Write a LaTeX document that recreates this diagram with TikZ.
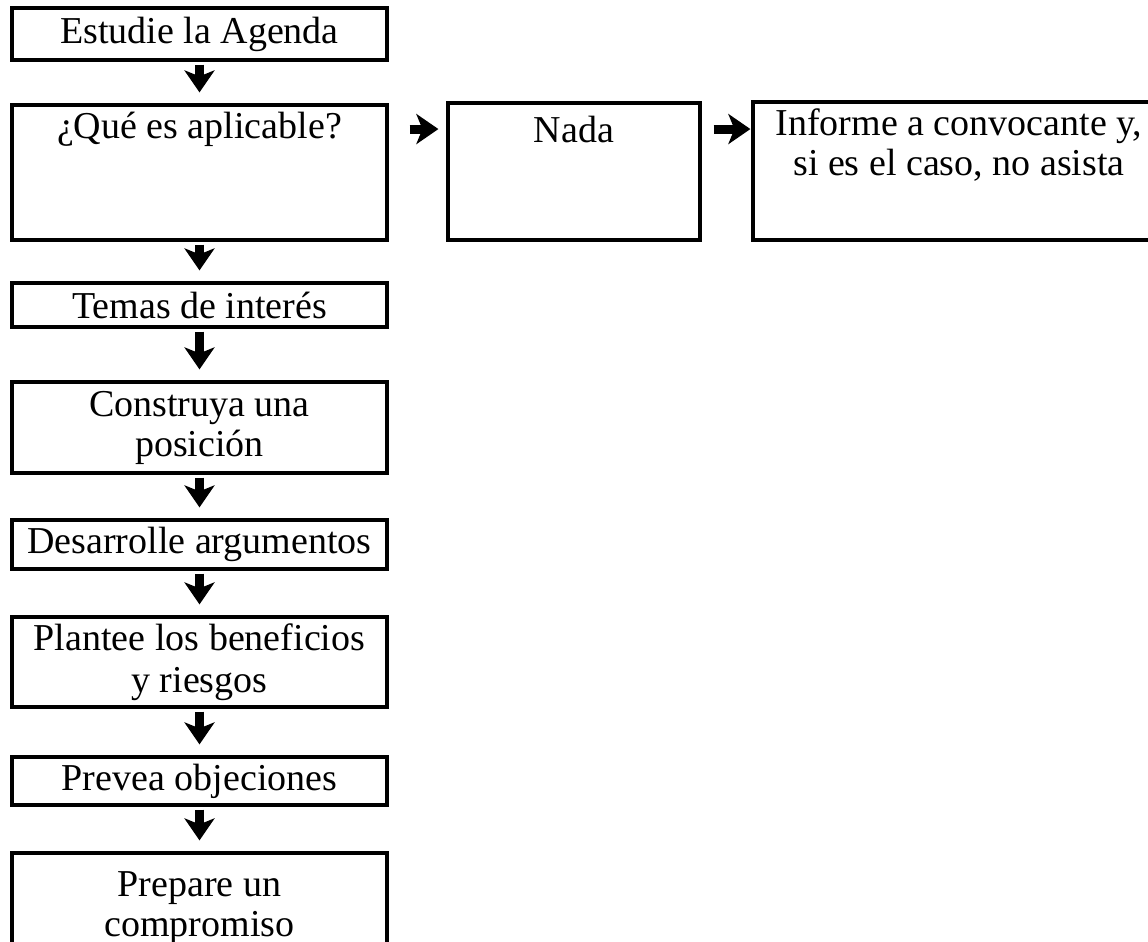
\documentclass[tikz,border=0pt]{standalone}
\usepackage{fontspec}
\setmainfont{Liberation Serif}
\usetikzlibrary{positioning}
\usetikzlibrary{arrows.meta}

\tikzset{
 caja/.style={draw,line width=1.6pt,minimum width=187.5pt,inner sep=0pt,align=center},
 texto/.style={inner sep=0pt,align=center},
 flecha/.style={line width=4.5pt,-{Stealth[length=11pt,width=15pt,inset=3pt]},shorten <=1.5pt,shorten >=5.5pt}
}

\begin{document}
\begin{tikzpicture}[x=0.5pt,y=-0.5pt,font=\fontsize{19}{20}\selectfont]
 \clip (0,0) rectangle (1148,942);
 \node[caja,minimum height=26pt] (agenda) at (199.5,34) {Estudie la Agenda};
 \node[caja,minimum height=67.5pt] (aplica) at (199.5,172.5) {};
 \node[texto,below=4pt of aplica.north] (aplicat) {¿Qué es aplicable?};
 \node[caja,minimum height=22pt] (temas) at (199.5,305) {Temas de interés};
 \node[caja,minimum height=45.5pt] (posicion) at (199.5,427.5) {Construya una\\ posición};
 \node[caja,minimum height=24.5pt] (argum) at (199.5,544.5) {Desarrolle argumentos};
 \node[caja,minimum height=45pt,font=\fontsize{19}{21}\selectfont] (benef) at (199.5,662) {Plantee los beneficios\\ y riesgos};
 \node[caja,minimum height=24pt] (objec) at (199.5,781) {Prevea objeciones};
 \node[caja,minimum height=55pt] (compro) at (199.5,908) {Prepare un\\ compromiso};
 \node[caja,minimum width=126pt,minimum height=68.5pt] (nada) at (574,171.5) {};
 \node[texto,below=7pt of nada.north] (nadat) {Nada};
 \node[caja,minimum width=206pt,minimum height=69pt] (informe) at (959,171) {};
 \node[texto,below=4pt of informe.north] (informet) {Informe a convocante y,\\ si es el caso, no asista};

 \draw[flecha] (agenda) -- (aplica);
 \draw[flecha] (aplica) -- (temas);
 \draw[flecha] (temas) -- (posicion);
 \draw[flecha] (posicion) -- (argum);
 \draw[flecha] (argum) -- (benef);
 \draw[flecha] (benef) -- (objec);
 \draw[flecha] (objec) -- (compro);
 \draw[flecha,shorten <=10.5pt,shorten >=4pt] (aplicat -| aplica.east) -- (aplicat -| nada.west);
 \draw[flecha,shorten <=6pt,shorten >=0.5pt] (aplicat -| nada.east) -- (aplicat -| informe.west);
\end{tikzpicture}
\end{document}
